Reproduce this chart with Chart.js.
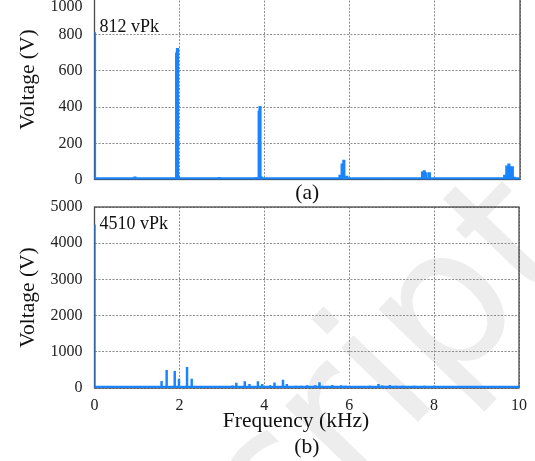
<!DOCTYPE html>
<html>
<head>
<meta charset="utf-8">
<script src="https://cdn.jsdelivr.net/npm/chart.js@4/dist/chart.umd.min.js"></script>
<style>
    html, body { margin: 0; padding: 0; background: #fff; }
    body { position: relative; width: 535px; height: 461px; overflow: hidden; }
    canvas { position: absolute; left: 0; }
    #chartA { top: -42px; }
    #chartB { top: 150px; }
</style>
</head>
<body>
<canvas id="chartB" width="535" height="311"></canvas>
<canvas id="chartA" width="535" height="252"></canvas>
<script>
// --- Daten (a): Spektrum oben ---
const freqA = [0, 0.95, 1.93, 1.95, 1.97, 2.93, 3.8, 3.87, 3.89, 3.92, 5.77, 5.82, 5.86, 5.93, 6.83,
               7.71, 7.75, 7.79, 7.87, 8.7, 9.64, 9.69, 9.74, 9.77, 9.82, 9.86];
const voltA = [812, 15, 700, 725, 20, 12, 10, 380, 405, 15, 25, 86, 108, 19, 6,
               43, 49, 38, 38, 6, 25, 75, 86, 71, 71, 14];

// --- Daten (b): Spektrum unten ---
const freqB = [0, 1.58, 1.70, 1.89, 1.99, 2.18, 2.29, 2.5, 2.6, 3.25, 3.34, 3.54, 3.65, 3.85, 3.95,
               4.14, 4.24, 4.44, 4.53, 4.75, 4.87, 5.01, 5.2, 5.3, 5.6, 5.81, 5.91, 6.2, 6.49, 6.69,
               6.78, 6.96, 7.1, 7.26, 7.53, 7.77, 8.0, 8.3, 8.55, 8.8, 9.1, 9.4, 9.7];
const voltB = [4510, 183, 486, 459, 249, 569, 249, 40, 30, 60, 138, 180, 100, 180, 100,
               70, 140, 221, 100, 50, 50, 65, 65, 150, 75, 65, 50, 30, 50, 100,
               60, 75, 50, 50, 50, 50, 50, 40, 30, 40, 30, 25, 30];

// Rauschboden
const floorFreq = [0, 10];
const floorA = [5, 5];
const floorB = [25, 25];

// Achsen
const yTicksA = [0, 200, 400, 600, 800, 1000];
const yTicksB = [0, 1000, 2000, 3000, 4000, 5000];
const xTicks = [0, 2, 4, 6, 8, 10];

const blue = "#1a84ff";
const serif = "'Liberation Serif', 'DejaVu Serif', serif";

// Rahmen, Peak-Beschriftung, Wasserzeichen
const framePlugin = {
    id: "frame",
    beforeDraw(chart, args, opts) {
        if (!opts.watermark) return;
        const ctx = chart.ctx;
        ctx.save();
        ctx.translate(opts.watermark.x, opts.watermark.y);
        ctx.rotate(opts.watermark.angle * Math.PI / 180);
        ctx.font = "195px 'DejaVu Sans'";
        ctx.fillStyle = "#ededed";
        ctx.textAlign = "right";
        ctx.fillText(opts.watermark.text, 0, 0);
        ctx.restore();
    },
    beforeDatasetsDraw(chart) {
        const a = chart.chartArea;
        const ctx = chart.ctx;
        ctx.save();
        ctx.strokeStyle = "#4a4a4a";
        ctx.lineWidth = 1.3;
        ctx.strokeRect(a.left, a.top, a.right - a.left, a.bottom - a.top);
        ctx.restore();
    },
    afterDatasetsDraw(chart, args, opts) {
        const ctx = chart.ctx;
        const x = chart.scales.x;
        const y = chart.scales.y;
        ctx.save();
        ctx.fillStyle = "#111";
        ctx.textBaseline = "middle";
        ctx.font = "18px " + serif;
        ctx.fillText(opts.peak, x.getPixelForValue(0) + 5, y.getPixelForValue(opts.peakValue) + opts.peakShift);
        if (opts.topLabel !== undefined) {
            // oberste Tickbeschriftung sitzt etwas unterhalb ihrer Gitterlinie
            ctx.font = "16px " + serif;
            ctx.textAlign = "right";
            ctx.fillStyle = "#222";
            ctx.fillText(String(opts.topLabel), x.left - 12, y.getPixelForValue(opts.topLabel) + 8);
        }
        ctx.restore();
    },
};

function points(fs, vs) {
    return fs.map((f, i) => ({ x: f, y: vs[i] }));
}

function makeChart(id, cfg) {
    return new Chart(document.getElementById(id).getContext("2d"), {
        data: {
            datasets: [
                {
                    type: "line",
                    data: points(floorFreq, cfg.floor),
                    borderColor: blue,
                    borderWidth: 2.5,
                    pointRadius: 0,
                    order: 2,
                },
                {
                    type: "bar",
                    data: points(cfg.freq, cfg.volt),
                    backgroundColor: blue,
                    borderWidth: 0,
                    barThickness: cfg.barWidth,
                    order: 1,
                },
            ],
        },
        plugins: [framePlugin],
        options: {
            responsive: false,
            animation: false,
            layout: { padding: { left: 0, right: 15, top: cfg.padTop, bottom: 0 } },
            plugins: {
                legend: { display: false },
                tooltip: { enabled: false },
                frame: {
                    peak: cfg.peak,
                    peakValue: cfg.volt[0],
                    peakShift: cfg.peakShift,
                    topLabel: cfg.topLabel,
                    watermark: cfg.watermark,
                },
            },
            scales: {
                x: {
                    type: "linear",
                    min: 0,
                    max: 10,
                    offset: false,
                    afterBuildTicks: (s) => { s.ticks = xTicks.map((v) => ({ value: v })); },
                    afterFit: (s) => { s.height = cfg.xHeight; },
                    grid: { offset: false, color: "#8c8c8c", lineWidth: 1, drawTicks: false },
                    border: { display: false, dash: [2, 1.5] },
                    ticks: {
                        display: cfg.showX,
                        padding: 8,
                        color: "#222",
                        font: { family: serif, size: 16 },
                        maxRotation: 0,
                    },
                    title: {
                        display: true,
                        text: cfg.xTitle,
                        color: "#111",
                        font: { family: serif, size: 21.5, lineHeight: 1.2 },
                        padding: { top: 0, bottom: cfg.xTitlePad },
                    },
                },
                y: {
                    min: 0,
                    max: cfg.yMax,
                    afterBuildTicks: (s) => { s.ticks = cfg.yTicks.map((v) => ({ value: v })); },
                    afterFit: (s) => { s.width = 94.5; },
                    grid: { color: "#8c8c8c", lineWidth: 1, drawTicks: false },
                    border: { display: false, dash: [2, 1.5] },
                    ticks: {
                        padding: 12,
                        color: "#222",
                        font: { family: serif, size: 16 },
                        callback: (v) => (v === cfg.topLabel ? "" : v),
                    },
                    title: {
                        display: true,
                        text: "Voltage (V)",
                        color: "#111",
                        font: { family: serif, size: 21.5, lineHeight: 1.2 },
                        padding: { top: 15, bottom: 0 },
                    },
                },
            },
        },
    });
}

// (a) oben: Achse oben angeschnitten
makeChart("chartA", {
    freq: freqA, volt: voltA, floor: floorA,
    yMax: 1105, yTicks: yTicksA, topLabel: 1000,
    padTop: 0, xHeight: 30.5, showX: false,
    xTitle: "(a)", xTitlePad: 4,
    peak: "812 vPk", peakShift: -5, barWidth: 2.5,
});

// (b) unten
makeChart("chartB", {
    freq: freqB, volt: voltB, floor: floorB,
    yMax: 5000, yTicks: yTicksB,
    padTop: 57, xHeight: 73, showX: true,
    xTitle: ["Frequency (kHz)    ", "(b)"], xTitlePad: 1,
    peak: "4510 vPk", peakShift: 0, barWidth: 1.8,
    watermark: { text: "Manuscript", x: 582, y: 102, angle: -46 },
});
</script>
</body>
</html>
